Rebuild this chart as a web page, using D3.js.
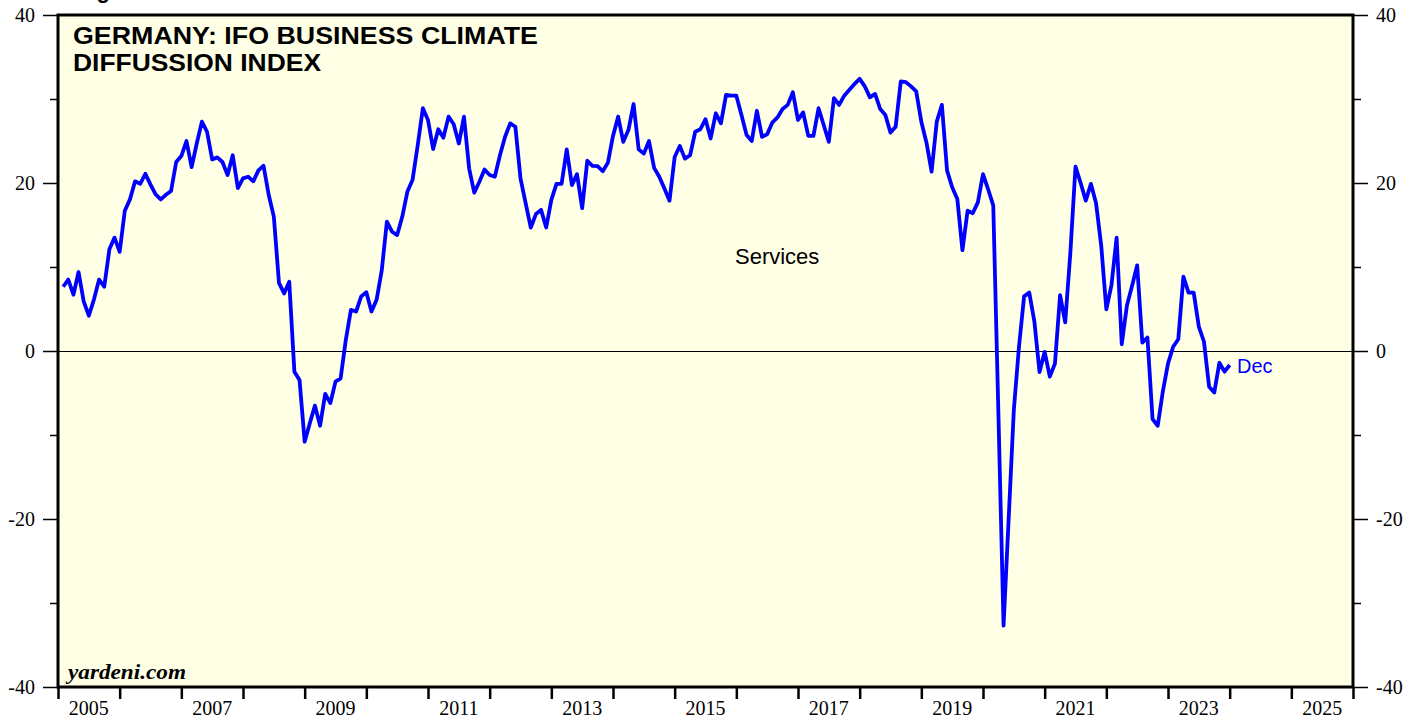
<!DOCTYPE html>
<html>
<head>
<meta charset="utf-8">
<script src="https://cdn.jsdelivr.net/npm/d3@7"></script>
<style>
  body { margin: 0; background: #ffffff; }
  svg text { font-family: "Liberation Serif", "Times New Roman", serif; }
</style>
</head>
<body>
<script>
// monthly readings, Jan 2005 .. Dec 2023
const firstYear = 2005;
const services = [
  7.65, 8.5, 6.7, 9.4, 5.9, 4.2, 6.15, 8.5, 7.65, 12.1, 13.5, 11.8,
  16.7, 18.05, 20.2, 19.9, 21.1, 19.8, 18.65, 18.05, 18.6, 19.05, 22.5, 23.2,
  25.0, 21.9, 24.7, 27.3, 26.1, 22.8, 23.05, 22.5, 20.95, 23.3, 19.4, 20.55,
  20.75, 20.2, 21.5, 22.05, 18.6, 16.0, 8.1, 6.85, 8.25, -2.46, -3.45, -10.8,
  -8.6, -6.5, -8.9, -5.1, -6.2, -3.65, -3.25, 1.3, 4.9, 4.7, 6.5, 7.0,
  4.7, 6.1, 9.6, 15.4, 14.2, 13.8, 16.0, 19.0, 20.4, 24.5, 28.9, 27.5,
  24.05, 26.4, 25.4, 27.9, 27.0, 24.7, 27.9, 21.75, 18.85, 20.15, 21.6, 20.95,
  20.75, 23.3, 25.5, 27.1, 26.7, 20.55, 17.6, 14.7, 16.3, 16.8, 14.7, 18.0,
  19.9, 19.9, 24.0, 19.75, 21.05, 17.0, 22.65, 22.05, 22.0, 21.4, 22.4, 25.6,
  27.9, 24.9, 26.3, 29.4, 24.0, 23.5, 25.0, 21.8, 20.75, 19.35, 17.9, 23.1,
  24.4, 22.9, 23.3, 26.1, 26.4, 27.6, 25.3, 28.3, 27.1, 30.5, 30.4, 30.4,
  28.1, 25.7, 25.0, 28.6, 25.5, 25.8, 27.2, 27.8, 28.8, 29.3, 30.8, 27.5,
  28.4, 25.6, 25.6, 28.9, 26.9, 24.9, 30.1, 29.3, 30.4, 31.1, 31.8, 32.4,
  31.5, 30.2, 30.6, 28.8, 28.1, 26.0, 26.7, 32.1, 32.0, 31.5, 30.9, 27.3,
  24.8, 21.35, 27.3, 29.3, 21.5, 19.5, 18.1, 12.0, 16.7, 16.4, 17.7, 21.05,
  19.25, 17.3, -7.5, -32.7, -19.9, -7.0, 0.5, 6.5, 6.95, 3.5, -2.5, -0.1,
  -3.05, -1.5, 6.65, 3.4, 11.7, 21.95, 20.0, 17.9, 19.9, 17.6, 12.6, 4.95,
  7.85, 13.5, 0.8, 5.4, 7.75, 10.2, 1.0, 1.6, -8.1, -8.9, -4.8, -1.5,
  0.5, 1.4, 8.85, 6.95, 6.95, 2.9, 1.1, -4.25, -4.95, -1.4, -2.46, -1.67
];
const yearTicks = d3.range(2005, 2027);
const yearLabels = ["2005", "2007", "2009", "2011", "2013", "2015", "2017", "2019", "2021", "2023", "2025"];
const yMajor = [-40, -20, 0, 20, 40];
const yMinor = [-30, -10, 10, 30];

const W = 1421, H = 721;
const plot = {left: 58, right: 1353, top: 15, bottom: 687};

const svg = d3.select("body").append("svg")
  .attr("width", W).attr("height", H);

const x = d3.scaleLinear().domain([2005, 2026]).range([plot.left, plot.right]);
const y = d3.scaleLinear().domain([-40, 40]).range([plot.bottom, plot.top]);

// partly clipped header text at very top
svg.append("text")
  .attr("x", 77).attr("y", -2)
  .style("font-family", "'Liberation Sans', Arial, sans-serif")
  .style("font-weight", "bold").style("font-size", "22px")
  .text("Figure");

svg.append("rect")
  .attr("x", plot.left).attr("y", plot.top)
  .attr("width", plot.right - plot.left).attr("height", plot.bottom - plot.top)
  .attr("fill", "#ffffe6");

// zero line
svg.append("line")
  .attr("x1", plot.left).attr("x2", plot.right)
  .attr("y1", Math.round(y(0)) + 0.5).attr("y2", Math.round(y(0)) + 0.5)
  .attr("stroke", "#000").attr("stroke-width", 1)
  .attr("shape-rendering", "crispEdges");

// the series
const line = d3.line()
  .x((d, i) => x(firstYear + (i + 1) / 12))
  .y(d => y(d));

svg.append("path")
  .datum(services)
  .attr("d", line)
  .attr("fill", "none")
  .attr("stroke", "#0000ff")
  .attr("stroke-width", 3.8)
  .attr("stroke-linejoin", "round");

// frame
svg.append("rect")
  .attr("x", plot.left).attr("y", plot.top)
  .attr("width", plot.right - plot.left).attr("height", plot.bottom - plot.top)
  .attr("fill", "none").attr("stroke", "#000").attr("stroke-width", 3);

// y axes: major + minor ticks on both sides
function yAxis(side) {
  const isLeft = side === "left";
  const mk = isLeft ? d3.axisLeft : d3.axisRight;
  const xpos = isLeft ? plot.left : plot.right;
  const major = svg.append("g")
    .attr("transform", `translate(${xpos},0)`)
    .call(mk(y).tickValues(yMajor).tickSize(15).tickPadding(8).tickFormat(d => String(d)));
  major.select(".domain").remove();
  major.selectAll("line").attr("stroke-width", 1.5);
  major.selectAll("text").style("font-size", "20px").attr("fill", "#000");
  const minor = svg.append("g")
    .attr("transform", `translate(${xpos},0)`)
    .call(mk(y).tickValues(yMinor).tickSize(8).tickFormat(""));
  minor.select(".domain").remove();
  minor.selectAll("line").attr("stroke-width", 1.5);
}
yAxis("left");
yAxis("right");

// x axis: a tick at each year boundary, labels centred in odd years
const xAx = svg.append("g")
  .attr("transform", `translate(0,${plot.bottom})`)
  .call(d3.axisBottom(x).tickValues(yearTicks).tickSize(12).tickFormat(""));
xAx.select(".domain").remove();
xAx.selectAll("line").attr("stroke-width", 2.5);

svg.append("g").selectAll("text")
  .data(yearLabels)
  .join("text")
  .attr("x", d => x(+d + 0.5))
  .attr("y", 715)
  .attr("text-anchor", "middle")
  .style("font-size", "20px")
  .text(d => d);

// titles and annotations
const title = svg.append("text")
  .style("font-family", "'Liberation Sans', Arial, sans-serif")
  .style("font-weight", "bold").style("font-size", "24px");
title.append("tspan").attr("x", 73).attr("y", 44)
  .attr("textLength", 465).attr("lengthAdjust", "spacingAndGlyphs")
  .text("GERMANY: IFO BUSINESS CLIMATE");
title.append("tspan").attr("x", 73).attr("y", 71)
  .attr("textLength", 248).attr("lengthAdjust", "spacingAndGlyphs")
  .text("DIFFUSSION INDEX");

svg.append("text")
  .attr("x", 735).attr("y", 264)
  .style("font-family", "'Liberation Sans', Arial, sans-serif")
  .style("font-size", "22px")
  .text("Services");

svg.append("text")
  .attr("x", 1237).attr("y", 373)
  .style("font-family", "'Liberation Sans', Arial, sans-serif")
  .style("font-size", "20px")
  .attr("fill", "#0000ff")
  .text("Dec");

svg.append("text")
  .attr("x", 68).attr("y", 679)
  .attr("textLength", 118).attr("lengthAdjust", "spacingAndGlyphs")
  .style("font-weight", "bold").style("font-style", "italic")
  .style("font-size", "20px")
  .text("yardeni.com");
</script>
</body>
</html>
